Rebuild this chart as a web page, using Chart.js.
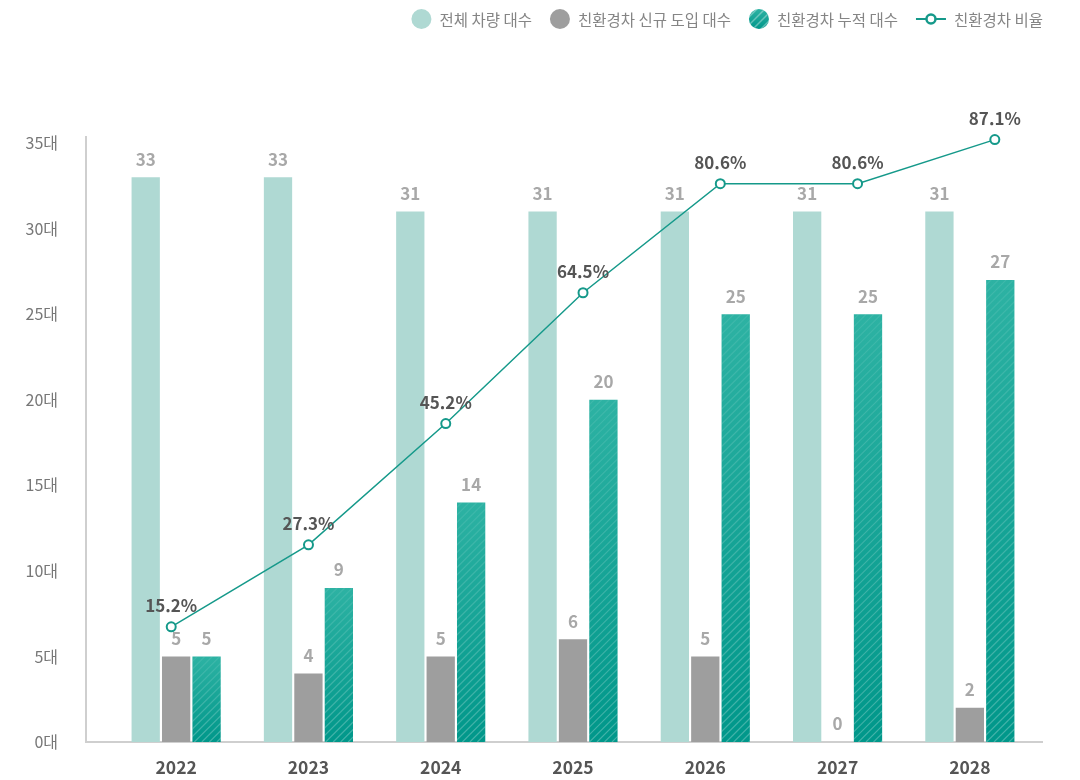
<!DOCTYPE html>
<html lang="ko">
<head>
<meta charset="utf-8">
<title>친환경차 도입 현황</title>
<script src="https://cdn.jsdelivr.net/npm/chart.js@4.4.1/dist/chart.umd.min.js"></script>
<style>
  html, body { margin: 0; padding: 0; background: #fff; }
  #wrap { position: relative; width: 1080px; height: 780px; }
  .layer { position: absolute; left: 0; top: 0; width: 1080px; height: 780px; }
</style>
</head>
<body>
<div id="wrap">
  <div class="layer"><canvas id="ecoChart"></canvas></div>
  <div class="layer"><canvas id="ratioChart"></canvas></div>
</div>
<script>
// 연도별 차량 현황 데이터
const years = ['2022', '2023', '2024', '2025', '2026', '2027', '2028'];
const totalCars = [33, 33, 31, 31, 31, 31, 31];
const newEcoCars = [5, 4, 5, 6, 5, 0, 2];
const cumulativeEcoCars = [5, 9, 14, 20, 25, 25, 27];
const ecoRatio = [15.2, 27.3, 45.2, 64.5, 80.6, 80.6, 87.1];
const yTickValues = [0, 5, 10, 15, 20, 25, 30, 35];
const yUnit = '대';

const FONT = '"Noto Sans CJK KR", "Noto Sans", sans-serif';
const LIGHT_TEAL = '#afd9d3';
const GRAY = '#9e9e9e';
const TEAL_TOP = '#2db2a3';
const TEAL_BOTTOM = '#00978a';
const LINE_COLOR = '#15998a';

// 두 차트가 같은 영역을 쓰도록 여백 공유
const AREA_PADDING = { top: 143, left: 110, right: 44, bottom: 38 };

function tealGradient(ctx, top, bottom) {
    if (!isFinite(top) || !isFinite(bottom)) return TEAL_BOTTOM;
    const g = ctx.createLinearGradient(0, top, 0, bottom);
    g.addColorStop(0, TEAL_TOP);
    g.addColorStop(1, TEAL_BOTTOM);
    return g;
}

// 사선 무늬 (아래로 갈수록 진하게)
function drawHatch(ctx, x, y, w, h) {
    if (!(h > 0)) return;
    ctx.save();
    ctx.beginPath();
    ctx.rect(x, y, w, h);
    ctx.clip();
    const g = ctx.createLinearGradient(0, y, 0, y + h);
    g.addColorStop(0, 'rgba(255,255,255,0.08)');
    g.addColorStop(1, 'rgba(255,255,255,0.26)');
    ctx.strokeStyle = g;
    ctx.lineWidth = 1.2;
    ctx.beginPath();
    for (let s = x - h - 10; s < x + w + 10; s += 7.5) {
        ctx.moveTo(s, y + h);
        ctx.lineTo(s + h, y);
    }
    ctx.stroke();
    ctx.restore();
}

const barDatasets = [
    {
        label: '전체 차량 대수',
        data: totalCars,
        backgroundColor: LIGHT_TEAL
    },
    {
        label: '친환경차 신규 도입 대수',
        data: newEcoCars,
        backgroundColor: GRAY
    },
    {
        label: '친환경차 누적 대수',
        data: cumulativeEcoCars,
        backgroundColor: (c) => {
            const y = c.chart.scales.y;
            if (!y || !c.chart.chartArea || typeof c.raw !== 'number') return TEAL_BOTTOM;
            return tealGradient(c.chart.ctx, y.getPixelForValue(c.raw), y.getPixelForValue(0));
        }
    }
];

const ratioDataset = {
    label: '친환경차 비율',
    data: ecoRatio.map((v, i) => ({ x: i, y: v })),
    borderColor: LINE_COLOR,
    borderWidth: 1.5,
    pointRadius: 4.5,
    pointBorderWidth: 2,
    pointBackgroundColor: '#fff',
    pointBorderColor: LINE_COLOR,
    clip: false
};

// 축 선 (왼쪽, 아래)
const axisLinePlugin = {
    id: 'axisLine',
    beforeDatasetsDraw(chart) {
        const { ctx, chartArea } = chart;
        const base = chart.scales.y.getPixelForValue(0);
        const left = chartArea.left - 24;
        ctx.save();
        ctx.strokeStyle = '#cfcfcf';
        ctx.lineWidth = 2;
        ctx.beginPath();
        ctx.moveTo(left, chartArea.top - 7);
        ctx.lineTo(left, base);
        ctx.lineTo(chartArea.right + 7, base);
        ctx.stroke();
        ctx.restore();
    }
};

// 누적 대수 막대에 사선 무늬
const hatchPlugin = {
    id: 'hatch',
    afterDatasetDraw(chart, args) {
        if (args.index !== 2) return;
        const { ctx } = chart;
        args.meta.data.forEach(bar => {
            const { x, y, base, width } = bar.getProps(['x', 'y', 'base', 'width'], true);
            drawHatch(ctx, x - width / 2, y, width, base - y);
        });
    }
};

// 막대 값 라벨
const barLabelPlugin = {
    id: 'barLabels',
    afterDatasetsDraw(chart) {
        const { ctx } = chart;
        ctx.save();
        ctx.textAlign = 'center';
        ctx.textBaseline = 'middle';
        ctx.font = 'bold 17px ' + FONT;
        ctx.fillStyle = '#a8a8a8';
        chart.data.datasets.forEach((ds, i) => {
            chart.getDatasetMeta(i).data.forEach((el, j) => {
                ctx.fillText(String(ds.data[j]), el.x, el.y - 18);
            });
        });
        ctx.restore();
    }
};

// 비율 라벨
const ratioLabelPlugin = {
    id: 'ratioLabels',
    afterDatasetsDraw(chart) {
        const { ctx } = chart;
        ctx.save();
        ctx.textAlign = 'center';
        ctx.textBaseline = 'middle';
        ctx.font = 'bold 17px ' + FONT;
        ctx.fillStyle = '#555';
        chart.getDatasetMeta(0).data.forEach((el, j) => {
            ctx.fillText(ecoRatio[j] + '%', el.x, el.y - 21);
        });
        ctx.restore();
    }
};

// 범례 (오른쪽 위)
const legendPlugin = {
    id: 'topLegend',
    afterDraw(chart) {
        const { ctx } = chart;
        const right = chart.chartArea.right + 7;
        const cy = 19;
        const entries = [
            { kind: 'circle', color: LIGHT_TEAL, label: barDatasets[0].label },
            { kind: 'circle', color: GRAY, label: barDatasets[1].label },
            { kind: 'hatch', label: barDatasets[2].label },
            { kind: 'line', label: ratioDataset.label }
        ];
        ctx.save();
        ctx.font = '15.5px ' + FONT;
        ctx.textBaseline = 'middle';
        entries.forEach(it => {
            it.iconW = it.kind === 'line' ? 30 : 20;
            it.textW = ctx.measureText(it.label).width;
        });
        const total = entries.reduce((s, it) => s + it.iconW + 8 + it.textW, 0) + 18 * (entries.length - 1);
        let x = right - total;
        entries.forEach(it => {
            if (it.kind === 'line') {
                ctx.strokeStyle = LINE_COLOR;
                ctx.lineWidth = 2;
                ctx.beginPath();
                ctx.moveTo(x, cy);
                ctx.lineTo(x + it.iconW, cy);
                ctx.stroke();
                ctx.beginPath();
                ctx.arc(x + it.iconW / 2, cy, 4.5, 0, Math.PI * 2);
                ctx.fillStyle = '#fff';
                ctx.fill();
                ctx.lineWidth = 2.5;
                ctx.stroke();
            } else {
                const cx = x + 10;
                ctx.beginPath();
                ctx.arc(cx, cy, 10, 0, Math.PI * 2);
                if (it.kind === 'hatch') {
                    ctx.fillStyle = tealGradient(ctx, cy - 10, cy + 10);
                    ctx.fill();
                    ctx.save();
                    ctx.clip();
                    ctx.strokeStyle = 'rgba(255,255,255,0.35)';
                    ctx.lineWidth = 1.5;
                    ctx.beginPath();
                    for (let s = cx - 30; s < cx + 20; s += 8) {
                        ctx.moveTo(s, cy + 10);
                        ctx.lineTo(s + 20, cy - 10);
                    }
                    ctx.stroke();
                    ctx.restore();
                } else {
                    ctx.fillStyle = it.color;
                    ctx.fill();
                }
            }
            x += it.iconW + 8;
            ctx.fillStyle = '#858585';
            ctx.fillText(it.label, x, cy + 1);
            x += it.textW + 18;
        });
        ctx.restore();
    }
};

// 막대 차트 (대수)
new Chart(document.getElementById('ecoChart').getContext('2d'), {
    type: 'bar',
    data: {
        labels: years,
        datasets: barDatasets
    },
    options: {
        responsive: true,
        maintainAspectRatio: false,
        animation: false,
        devicePixelRatio: 1,
        layout: { padding: { top: AREA_PADDING.top, right: AREA_PADDING.right, left: 0, bottom: 0 } },
        datasets: {
            bar: { categoryPercentage: 0.69, barPercentage: 0.93 }
        },
        plugins: {
            legend: { display: false },
            tooltip: { enabled: false }
        },
        scales: {
            x: {
                type: 'category',
                offset: true,
                grid: { display: false, drawTicks: false },
                border: { display: false },
                ticks: {
                    color: '#555',
                    font: { family: FONT, size: 17.5, weight: 'bold' },
                    padding: 15
                },
                afterFit(scale) {
                    scale.height = AREA_PADDING.bottom;
                    scale.paddingLeft = 0;
                    scale.paddingRight = 0;
                }
            },
            y: {
                min: 0,
                max: 35,
                grid: { display: false, drawTicks: false },
                border: { display: false },
                ticks: {
                    color: '#777',
                    font: { family: FONT, size: 16 },
                    padding: 52,
                    callback: (v) => v + yUnit
                },
                afterBuildTicks(scale) {
                    scale.ticks = yTickValues.map(v => ({ value: v }));
                },
                afterFit(scale) {
                    scale.width = AREA_PADDING.left;
                    scale.paddingTop = 0;
                    scale.paddingBottom = 0;
                }
            }
        }
    },
    plugins: [axisLinePlugin, hatchPlugin, barLabelPlugin, legendPlugin]
});

// 꺾은선 차트 (비율) - 막대 차트 위에 겹쳐 그림
new Chart(document.getElementById('ratioChart').getContext('2d'), {
    type: 'line',
    data: { datasets: [ratioDataset] },
    options: {
        responsive: true,
        maintainAspectRatio: false,
        animation: false,
        devicePixelRatio: 1,
        layout: { padding: AREA_PADDING },
        plugins: {
            legend: { display: false },
            tooltip: { enabled: false }
        },
        scales: {
            x: { type: 'linear', display: false, min: -0.446, max: 6.3 },
            y: { type: 'linear', display: false, min: -1.8, max: 86.6 }
        }
    },
    plugins: [ratioLabelPlugin]
});
</script>
</body>
</html>
